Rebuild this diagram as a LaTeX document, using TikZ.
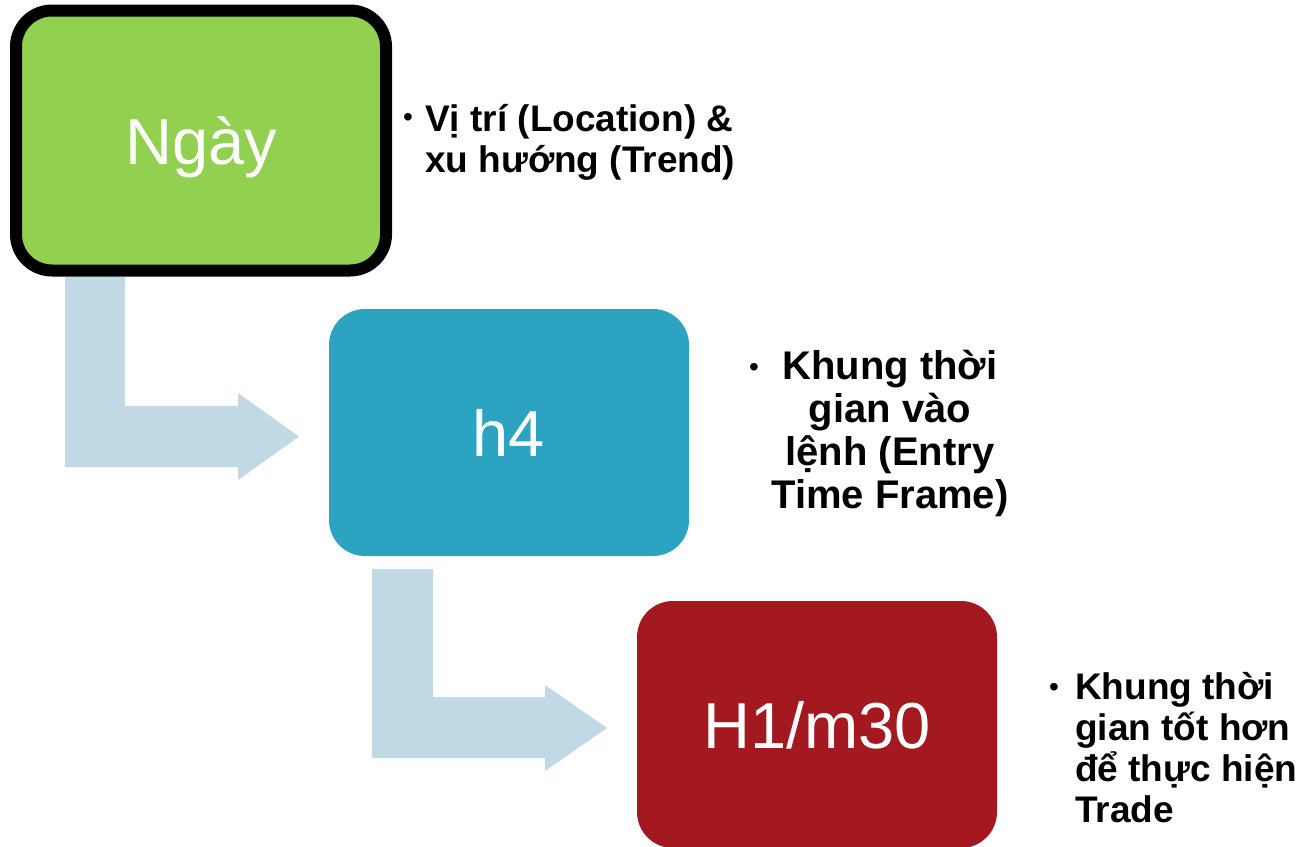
\documentclass[tikz,border=0pt]{standalone}
\usepackage{fontspec}
\setmainfont{Liberation Sans}
\usetikzlibrary{positioning}

\definecolor{daygreen}{HTML}{92D050}
\definecolor{hourteal}{HTML}{2CA3C0}
\definecolor{minred}{HTML}{A3191F}
\definecolor{arrowblue}{HTML}{C0D9E4}

\tikzset{
    tfbox/.style={rounded corners=36pt, minimum width=360pt, minimum height=247pt,
        inner sep=0pt, text depth=0pt, text=white, font=\fontsize{65}{72}\selectfont},
    note/.style={inner sep=0pt, font=\bfseries\fontsize{37}{41}\selectfont},
    dot/.style={inner sep=0pt, font=\fontsize{28}{30}\selectfont},
    bentarrow/.style={fill=arrowblue}
}

\begin{document}
\begin{tikzpicture}[x=1pt, y=-1pt]
    \clip (0,0) rectangle (1300,846);

    % Time frame boxes
    \node[tfbox, fill=daygreen, draw=black, line width=12pt,
          minimum width=370pt, minimum height=260pt] (ngay) at (201,140.5) {Ngày};
    \node[tfbox, fill=hourteal] (h4) at (509,432.5) {h4};
    \node[tfbox, fill=minred] (h1) at (817,724.5) {H1/m30};

    % Bent arrows
    \coordinate (a1) at (65,277);
    \coordinate (a2) at (372,569);
    \fill[bentarrow] (a1) -- ++(60,0) -- ++(0,129) -- ++(113,0) -- ++(0,-13)
        -- ++(61,43.5) -- ++(-61,43.5) -- ++(0,-13) -- ++(-173,0) -- cycle;
    \fill[bentarrow] (a2) -- ++(61,0) -- ++(0,128) -- ++(112,0) -- ++(0,-12)
        -- ++(62,43) -- ++(-62,43) -- ++(0,-13) -- ++(-173,0) -- cycle;

    % Notes
    \node[dot] (d1) at (408,120) {•};
    \node[note, anchor=north west, align=left] (n1) at (425,104)
        {Vị trí (Location) \&\\xu hướng (Trend)};

    \node[dot] (d2) at (754,370) {•};
    \node[note, align=center, font=\bfseries\fontsize{40}{43}\selectfont] (n2) at (890,433)
        {Khung thời\\gian vào\\lệnh (Entry\\Time Frame)};

    \node[dot] (d3) at (1054,690) {•};
    \node[note, anchor=west, align=left] (n3) at (1075,748)
        {Khung thời\\gian tốt hơn\\để thực hiện\\Trade};
\end{tikzpicture}
\end{document}
